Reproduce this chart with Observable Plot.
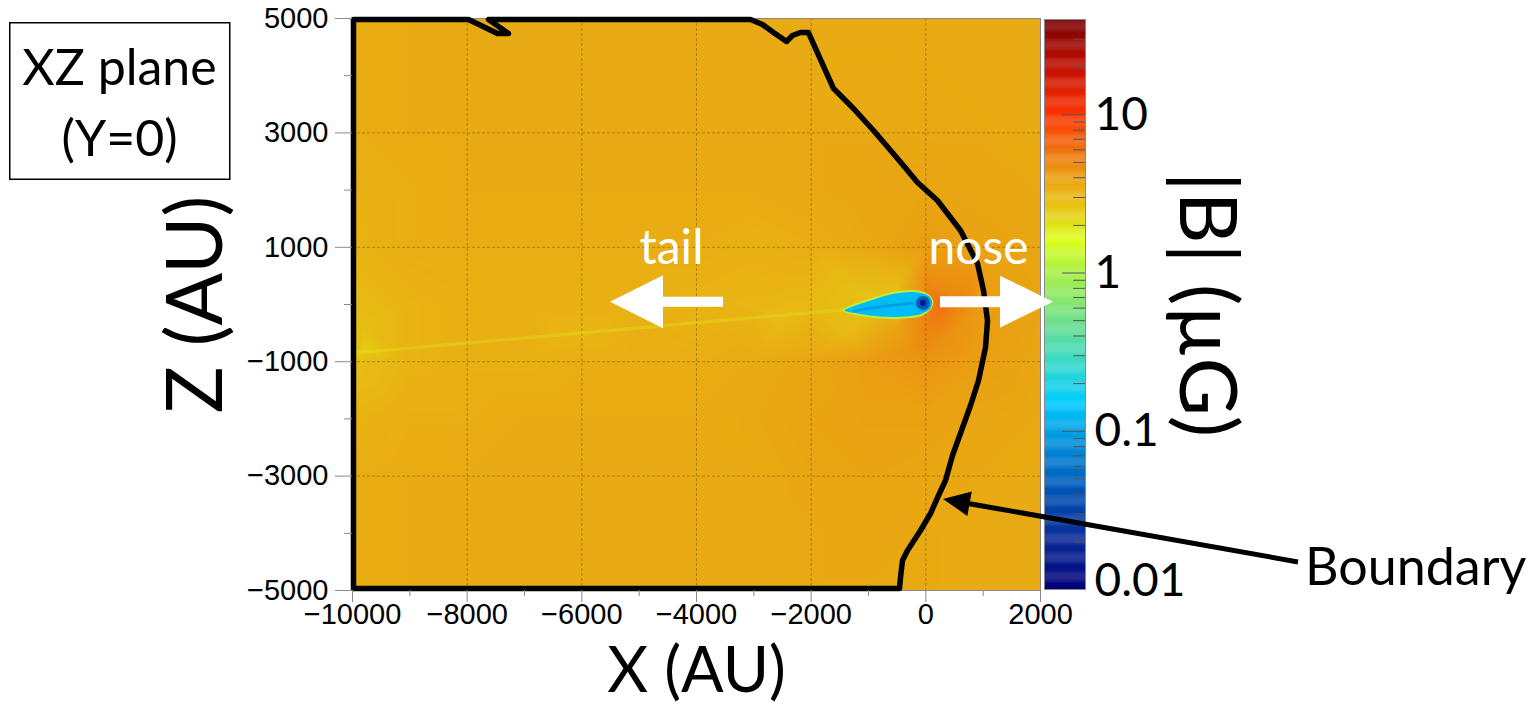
<!DOCTYPE html>
<html>
<head>
<meta charset="utf-8">
<script src="https://cdn.jsdelivr.net/npm/d3@7"></script>
<script src="https://cdn.jsdelivr.net/npm/@observablehq/plot@0.6"></script>
<style>
  html, body { margin: 0; padding: 0; background: #fff; }
  #chart { position: relative; width: 1535px; height: 708px; overflow: hidden; }
  #chart > svg { position: absolute; top: 0; }
</style>
</head>
<body>
<div id="chart"></div>
<script>
// |B| (µG) sampled on a 1000 AU lattice of the XZ plane (Y = 0)
const fieldX = [-10000, -9000, -8000, -7000, -6000, -5000, -4000, -3000, -2000, -1000, 0, 1000, 2000];
const fieldZ = [5000, 4000, 3000, 2000, 1000, 0, -1000, -2000, -3000, -4000, -5000];
const fieldB = [
  [3.5, 3.5, 3.5, 3.5, 3.5, 3.5, 3.5, 3.5, 3.5, 3.5, 3.5, 3.5, 3.5],
  [3.4, 3.5, 3.5, 3.5, 3.5, 3.5, 3.5, 3.5, 3.5, 3.6, 3.6, 3.5, 3.5],
  [3.4, 3.5, 3.5, 3.5, 3.5, 3.5, 3.5, 3.5, 3.6, 3.6, 3.6, 3.6, 3.5],
  [3.3, 3.4, 3.5, 3.5, 3.5, 3.5, 3.5, 3.5, 3.6, 3.7, 3.8, 3.7, 3.6],
  [3.2, 3.4, 3.4, 3.4, 3.4, 3.4, 3.4, 3.3, 3.4, 3.6, 4.1, 3.9, 3.7],
  [2.9, 3.2, 3.3, 3.3, 3.3, 3.3, 3.2, 3.1, 3.0, 2.6, 5.0, 4.2, 3.8],
  [2.8, 3.2, 3.3, 3.3, 3.4, 3.4, 3.4, 3.5, 3.7, 4.1, 4.4, 4.0, 3.7],
  [3.2, 3.4, 3.4, 3.5, 3.5, 3.5, 3.5, 3.6, 3.8, 3.9, 3.9, 3.7, 3.6],
  [3.4, 3.5, 3.5, 3.5, 3.5, 3.5, 3.5, 3.5, 3.7, 3.8, 3.7, 3.6, 3.5],
  [3.4, 3.5, 3.5, 3.5, 3.5, 3.5, 3.5, 3.5, 3.6, 3.7, 3.6, 3.5, 3.5],
  [3.5, 3.5, 3.5, 3.5, 3.5, 3.5, 3.5, 3.5, 3.6, 3.6, 3.6, 3.5, 3.5]
];
// extra samples around the star and along the tail
const nearX = [250, 600, 0, 0, -500, -500, -1300, -1300, -500, -2500, -6000, -9800, -9800, 300, -300];
const nearZ = [30, 50, 450, -450, 350, -400, 300, -450, 0, -250, -500, -800, -400, -600, -800];
const nearB = [6.0, 5.0, 4.6, 5.0, 2.9, 3.8, 2.8, 2.9, 2.2, 2.9, 3.1, 2.4, 2.8, 4.6, 4.4];

// astrosphere outline around the star (AU)
const boundaryX = [-9983, -9983, -7977, -7471, -7279, -7628, -3058, -2849, -2657, -2430, -2326, -2186, -2047,
  -1610, -1262, -913, -494, -145, 203, 605, 901, 1006, 1076, 1041, 919, 779, 622, 465, 343, 221, 81,
  -93, -320, -407, -442, -459, -9983];
const boundaryZ = [-4965, 4983, 4983, 4738, 4738, 4983, 4983, 4895, 4755, 4598, 4703, 4755, 4755,
  3776, 3427, 3042, 2552, 2133, 1818, 1294, 717, 245, -280, -752, -1329, -1766, -2203, -2640, -3077, -3339, -3654,
  -3951, -4301, -4476, -4773, -4965, -4965];

// comet-shaped inner region (AU), its darker core line, and the star at its head
const cometX = [-1436, -965, -529, -215, -58, 64, 116, 64, -76, -355, -791, -1140];
const cometZ = [-105, 87, 210, 236, 210, 140, 35, -87, -184, -227, -227, -184];
const cometB = 0.13;
const cometRimB = 1.3;
const coreX = [-1250, -800, -400, -100];
const coreZ = [-110, -40, 10, 25];
const coreB = 0.06;
const headX = -49, headZ = 26;
const headB = [0.12, 0.045, 0.015];

// faint tail streak
const streakX = [-1400, -10000];
const streakZ = [-90, -850];
const streakB = 2.0;

// colour ramp for |B| (µG)
const cbStopValues = [0.01, 0.02, 0.04, 0.1, 0.15, 0.25, 0.5, 1, 1.6, 2.5, 4, 6, 10, 20, 40];
const cbStopColors = ["#00007a", "#0a2a96", "#0050b4", "#00a0e6", "#00ccff", "#30d8d0", "#70e088",
  "#a8f048", "#dcff1e", "#e6c814", "#eaa012", "#f07010", "#ff3300", "#c01000", "#780000"];
const cbTicks = [0.01, 0.1, 1, 10];
const cbTickLabels = ["0.01", "0.1", "1", "10"];
const cbMinor = [0.02, 0.03, 0.04, 0.05, 0.06, 0.07, 0.08, 0.09, 0.2, 0.3, 0.4, 0.5, 0.6, 0.7, 0.8, 0.9,
  2, 3, 4, 5, 6, 7, 8, 9, 20, 30];

// axis ticks
const xTicks = [-10000, -8000, -6000, -4000, -2000, 0, 2000];
const xMinor = [-9000, -7000, -5000, -3000, -1000, 1000];
const xGrid = [-8000, -6000, -4000, -2000, 0];
const zTicks = [5000, 3000, 1000, -1000, -3000, -5000];
const zMinor = [4000, 2000, 0, -2000, -4000];
const zGrid = [3000, 1000, -1000, -3000];

// annotations (AU)
const arrowLabels = [{x: -4436, z: 979, label: "tail"}, {x: 919, z: 979, label: "nose"}];
const tailArrow = {from: [-3529, 40], to: [-5500, 40]};
const noseArrow = {from: [256, 40], to: [2227, 40]};
const boundaryPointer = {from: [6500, -4510], to: [308, -3409]};

const W = 1535, H = 708;
const LATO = "Lato, 'Open Sans', sans-serif";
const HELV = "'Liberation Sans', Arial, sans-serif";
const colorOpts = {type: "log", domain: cbStopValues, range: cbStopColors};
const fmt = d3.format("d");

const field = [];
fieldZ.forEach((z, i) => fieldX.forEach((x, j) => field.push({x, z, b: fieldB[i][j]})));
nearX.forEach((x, i) => field.push({x, z: nearZ[i], b: nearB[i]}));
const boundary = boundaryX.map((x, i) => ({x, z: boundaryZ[i]}));
const comet = cometX.map((x, i) => ({x, z: cometZ[i]}));
const core = coreX.map((x, i) => ({x, z: coreZ[i]}));
const streak = streakX.map((x, i) => ({x, z: streakZ[i]}));
const head = [{x: headX, z: headZ}];

const main = Plot.plot({
  width: W, height: H,
  marginLeft: 352, marginRight: W - 1040, marginTop: 18, marginBottom: H - 590,
  x: {domain: [-10000, 2000], label: null},
  y: {domain: [-5000, 5000], label: null},
  color: colorOpts,
  style: {fontFamily: HELV, background: "transparent", overflow: "visible"},
  marks: [
    Plot.raster(field, {x: "x", y: "z", fill: "b", interpolate: "barycentric", pixelSize: 1,
      x1: -10000, x2: 2000, y1: -5000, y2: 5000}),
    Plot.gridX(xGrid, {stroke: "#6b4a00", strokeOpacity: 0.45, strokeDasharray: "3,2"}),
    Plot.gridY(zGrid, {stroke: "#6b4a00", strokeOpacity: 0.45, strokeDasharray: "3,2"}),
    Plot.line(streak, {x: "x", y: "z", stroke: () => streakB, strokeWidth: 3.5, strokeOpacity: 0.35}),
    Plot.line(comet, {x: "x", y: "z", fill: () => cometB, stroke: () => cometRimB, strokeWidth: 2,
      strokeOpacity: 0.85, curve: "catmull-rom-closed"}),
    Plot.line(core, {x: "x", y: "z", stroke: () => coreB, strokeWidth: 2.5, strokeOpacity: 0.45,
      curve: "catmull-rom"}),
    Plot.dot(head, {x: "x", y: "z", r: 9, fill: () => headB[0]}),
    Plot.dot(head, {x: "x", y: "z", r: 7, fill: () => headB[1]}),
    Plot.dot(head, {x: "x", y: "z", r: 3, fill: () => headB[2]}),
    Plot.frame({stroke: "#8a8a8a", strokeWidth: 1}),
    Plot.line(boundary, {x: "x", y: "z", stroke: "#000", strokeWidth: 5.5, strokeLinejoin: "round"}),
    Plot.axisX({ticks: xTicks, tickSize: 12, tickPadding: 1, fontSize: 29, tickFormat: fmt,
      stroke: "#8a8a8a", label: null}),
    Plot.axisX({ticks: xMinor, tickSize: 6, tickFormat: () => "", stroke: "#8a8a8a", label: null}),
    Plot.axisY({ticks: zTicks, tickSize: 17, tickPadding: 7, fontSize: 29, tickFormat: fmt,
      stroke: "#8a8a8a", label: null}),
    Plot.axisY({ticks: zMinor, tickSize: 8, tickFormat: () => "", stroke: "#8a8a8a", label: null}),
    Plot.text(arrowLabels, {x: "x", y: "z", text: "label", fill: "white", fontSize: 48, fontFamily: LATO}),
    Plot.text(["X (AU)"], {text: d => d, frameAnchor: "bottom", textAnchor: "middle", lineAnchor: "middle",
      dy: 81, fontSize: 63, fontFamily: LATO}),
    Plot.text(["Z (AU)"], {text: d => d, frameAnchor: "left", textAnchor: "middle", lineAnchor: "middle",
      dx: -155, rotate: -90, fontSize: 78, fontFamily: LATO})
  ]
});
main.style.left = "0px";

// colour bar
const ramp = d3.range(600).map(i => {
  const lo = 0.01 * Math.pow(4000, i / 600), hi = 0.01 * Math.pow(4000, (i + 1.3) / 600);
  return {lo, hi: Math.min(hi, 40), mid: 0.01 * Math.pow(4000, (i + 0.5) / 600)};
});
const cbLeft = 1044, cbRight = 1085;
const cb = Plot.plot({
  width: W - cbLeft, height: H,
  marginLeft: 0, marginRight: W - cbRight, marginTop: 19, marginBottom: H - 589,
  x: {domain: [0, 1], axis: null},
  y: {type: "log", domain: [0.01, 40], axis: null},
  color: colorOpts,
  style: {fontFamily: LATO, background: "transparent", overflow: "visible"},
  marks: [
    Plot.rect(ramp, {x1: 0, x2: 1, y1: "lo", y2: "hi", fill: "mid"}),
    Plot.ruleY(cbTicks, {y: d => d, x1: 0.44, x2: 1, stroke: "#555", strokeWidth: 1}),
    Plot.ruleY(cbMinor, {y: d => d, x1: 0.71, x2: 1, stroke: "#555", strokeWidth: 1}),
    Plot.frame({stroke: "#8a8a8a", strokeWidth: 1}),
    Plot.text(cbTicks.slice(1), {x: 1, y: d => d, text: (d, i) => cbTickLabels[i + 1], dx: 9,
      textAnchor: "start", fontSize: 46, fontFamily: LATO}),
    Plot.text(cbTicks.slice(0, 1), {x: 1, y: d => d, text: () => cbTickLabels[0], dx: 9, dy: -8,
      textAnchor: "start", fontSize: 46, fontFamily: LATO}),
    Plot.text(["|B| (µG)"], {text: d => d, frameAnchor: "right", textAnchor: "middle", lineAnchor: "middle",
      dx: 120, rotate: 90, fontSize: 80, fontFamily: LATO})
  ]
});
cb.style.left = cbLeft + "px";

const chart = document.getElementById("chart");
chart.append(main, cb);

// annotation layer: white direction arrows, boundary pointer, plane label
const xs = main.scale("x"), ys = main.scale("y");
const px = ([x, z]) => [xs.apply(x), ys.apply(z)];
function arrowPath(a, shaft, headLen, headWid) {
  const [x0, y0] = px(a.from), [x1, y1] = px(a.to);
  const dx = x1 - x0, dy = y1 - y0, L = Math.hypot(dx, dy);
  const ux = dx / L, uy = dy / L, nx = -uy, ny = ux;
  const bx = x1 - ux * headLen, by = y1 - uy * headLen;
  const pts = [
    [x0 + nx * shaft / 2, y0 + ny * shaft / 2],
    [bx + nx * shaft / 2, by + ny * shaft / 2],
    [bx + nx * headWid / 2, by + ny * headWid / 2],
    [x1, y1],
    [bx - nx * headWid / 2, by - ny * headWid / 2],
    [bx - nx * shaft / 2, by - ny * shaft / 2],
    [x0 - nx * shaft / 2, y0 - ny * shaft / 2]
  ];
  return "M" + pts.map(p => p.map(v => v.toFixed(1)).join(",")).join("L") + "Z";
}
const overlay = d3.create("svg").attr("width", W).attr("height", H).style("left", "0px")
  .style("pointer-events", "none");
overlay.append("path").attr("d", arrowPath(tailArrow, 10, 53, 53)).attr("fill", "#fff");
overlay.append("path").attr("d", arrowPath(noseArrow, 11, 53, 52)).attr("fill", "#fff");
overlay.append("path").attr("d", arrowPath(boundaryPointer, 5, 27, 25)).attr("fill", "#000");
overlay.append("text").attr("x", 1305).attr("y", 585).attr("font-family", LATO).attr("font-size", 52)
  .text("Boundary");
overlay.append("rect").attr("x", 9.75).attr("y", 22.75).attr("width", 220).attr("height", 156.5)
  .attr("fill", "none").attr("stroke", "#000").attr("stroke-width", 1.5);
overlay.append("text").attr("x", 119.5).attr("y", 85).attr("text-anchor", "middle")
  .attr("font-family", LATO).attr("font-size", 50).text("XZ plane");
overlay.append("text").attr("x", 119.5).attr("y", 156).attr("text-anchor", "middle")
  .attr("font-family", LATO).attr("font-size", 50).text("(Y=0)");
chart.append(overlay.node());
</script>
</body>
</html>
